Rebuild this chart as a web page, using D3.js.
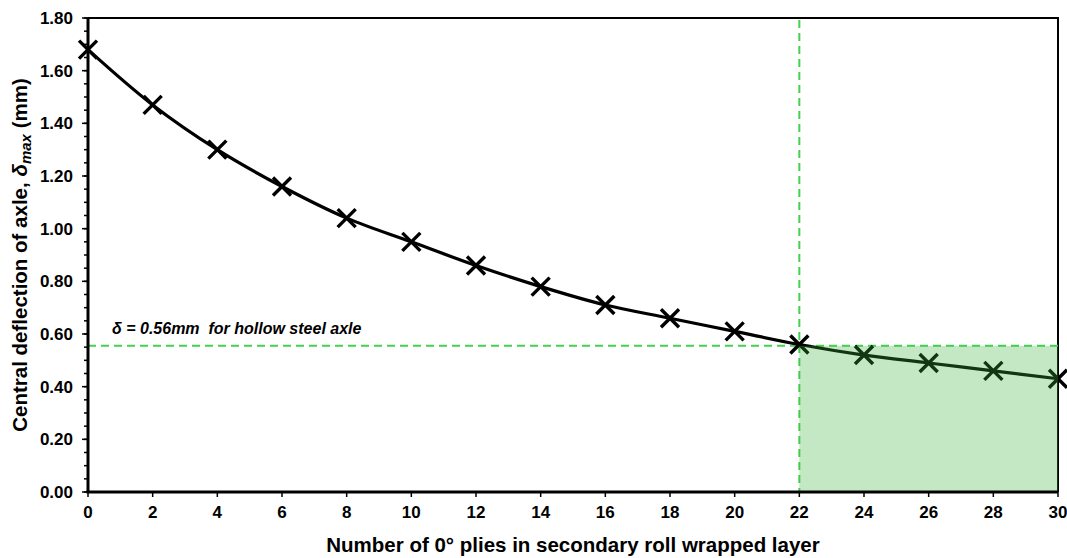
<!DOCTYPE html>
<html>
<head>
<meta charset="utf-8">
<script src="https://cdn.jsdelivr.net/npm/d3@7"></script>
<style>
  body { margin: 0; background: #fff; }
  text { font-family: "Liberation Sans", Arial, sans-serif; }
</style>
</head>
<body>
<svg id="chart" width="1067" height="558"></svg>
<script>
// data
var plies      = [0, 2, 4, 6, 8, 10, 12, 14, 16, 18, 20, 22, 24, 26, 28, 30];
var deflection = [1.68, 1.47, 1.30, 1.16, 1.04, 0.95, 0.86, 0.78, 0.71, 0.66, 0.61, 0.56, 0.52, 0.49, 0.46, 0.43];
var xTicks     = [0, 2, 4, 6, 8, 10, 12, 14, 16, 18, 20, 22, 24, 26, 28, 30];
var yTicks     = [0, 0.2, 0.4, 0.6, 0.8, 1.0, 1.2, 1.4, 1.6, 1.8];
var limitValue = 0.555;   // hollow steel axle
var limitPlies = 22;

var margin = {left: 88, top: 18, right: 9, bottom: 66};
var W = 1067, H = 558;
var svg = d3.select("#chart");
var innerW = W - margin.left - margin.right;
var innerH = H - margin.top - margin.bottom;

var x = d3.scaleLinear().domain([0, 30]).range([margin.left, margin.left + innerW]);
var y = d3.scaleLinear().domain([0, 1.8]).range([margin.top + innerH, margin.top]);

var green = "#45d052";

// top + right border
svg.append("path")
    .attr("d", "M" + x(0) + "," + y(1.8) + "H" + x(30) + "V" + y(0))
    .attr("fill", "none").attr("stroke", "#000").attr("stroke-width", 2);

// dashed guide lines
svg.append("line")
    .attr("x1", x(0)).attr("x2", x(30))
    .attr("y1", y(limitValue)).attr("y2", y(limitValue))
    .attr("stroke", green).attr("stroke-width", 2).attr("stroke-dasharray", "8,5");
svg.append("line")
    .attr("x1", x(limitPlies)).attr("x2", x(limitPlies))
    .attr("y1", y(1.8) + 2).attr("y2", y(0))
    .attr("stroke", green).attr("stroke-width", 2).attr("stroke-dasharray", "8,5");

// curve
var pts = plies.map(function(p, i){ return [p, deflection[i]]; });
var line = d3.line()
    .x(function(d){ return x(d[0]); })
    .y(function(d){ return y(d[1]); })
    .curve(d3.curveCatmullRom.alpha(0.5));
svg.append("path").datum(pts)
    .attr("d", line)
    .attr("fill", "none").attr("stroke", "#000").attr("stroke-width", 3.2);

// cross markers
var s = 9;
svg.selectAll("path.mark").data(pts).enter().append("path")
    .attr("class", "mark")
    .attr("d", function(d){
        var cx = x(d[0]), cy = y(d[1]);
        return "M" + (cx - s) + "," + (cy - s) + "L" + (cx + s) + "," + (cy + s) +
               "M" + (cx - s) + "," + (cy + s) + "L" + (cx + s) + "," + (cy - s);
    })
    .attr("stroke", "#000").attr("stroke-width", 3.4).attr("fill", "none");

// acceptable region, translucent over the curve
svg.append("rect")
    .attr("x", x(limitPlies)).attr("y", y(limitValue))
    .attr("width", x(30) - x(limitPlies)).attr("height", y(0) - y(limitValue))
    .attr("fill", "rgb(60,180,60)").attr("fill-opacity", 0.3);

// axes
var yAxis = svg.append("g").attr("transform", "translate(" + x(0) + ",0)");
yAxis.append("line").attr("x1", 0).attr("x2", 0).attr("y1", y(1.8)).attr("y2", y(0))
    .attr("stroke", "#000").attr("stroke-width", 3);
var yMinor = d3.range(0, 1.8001, 0.05);
yAxis.selectAll("line.minor").data(yMinor).enter().append("line")
    .attr("x1", -4).attr("x2", 0)
    .attr("y1", function(d){ return y(d); }).attr("y2", function(d){ return y(d); })
    .attr("stroke", "#000").attr("stroke-width", 1.5);
yAxis.selectAll("line.major").data(yTicks).enter().append("line")
    .attr("x1", -6).attr("x2", 0)
    .attr("y1", function(d){ return y(d); }).attr("y2", function(d){ return y(d); })
    .attr("stroke", "#000").attr("stroke-width", 1.5);
yAxis.selectAll("text").data(yTicks).enter().append("text")
    .attr("x", -15).attr("y", function(d){ return y(d); }).attr("dy", "0.36em")
    .attr("text-anchor", "end")
    .style("font-size", "17px").style("font-weight", "bold")
    .text(function(d){ return d3.format(".2f")(d); });

var xAxis = svg.append("g").attr("transform", "translate(0," + y(0) + ")");
xAxis.append("line").attr("x1", x(0) - 1.5).attr("x2", x(30)).attr("y1", 0).attr("y2", 0)
    .attr("stroke", "#000").attr("stroke-width", 3);
xAxis.selectAll("line.tick").data(xTicks).enter().append("line")
    .attr("x1", function(d){ return x(d); }).attr("x2", function(d){ return x(d); })
    .attr("y1", 0).attr("y2", 5)
    .attr("stroke", "#000").attr("stroke-width", 1.5);
xAxis.selectAll("text").data(xTicks).enter().append("text")
    .attr("x", function(d){ return x(d); }).attr("y", 26)
    .attr("text-anchor", "middle")
    .style("font-size", "17px").style("font-weight", "bold")
    .text(function(d){ return d; });

// axis titles
svg.append("text")
    .attr("x", (x(0) + x(30)) / 2).attr("y", 552)
    .attr("text-anchor", "middle")
    .style("font-size", "20.5px").style("font-weight", "bold")
    .text("Number of 0° plies in secondary roll wrapped layer");

var yt = svg.append("text")
    .attr("transform", "translate(27," + ((y(0) + y(1.8)) / 2) + ") rotate(-90)")
    .attr("text-anchor", "middle")
    .style("font-size", "20.5px").style("font-weight", "bold");
yt.append("tspan").text("Central deflection of axle, ");
yt.append("tspan").style("font-style", "italic").text("δ");
yt.append("tspan").style("font-style", "italic").style("font-size", "15px").attr("dy", 4).text("max");
yt.append("tspan").attr("dy", -4).text(" (mm)");

// annotation
svg.append("text")
    .attr("x", 112).attr("y", 334)
    .style("font-size", "16px").style("font-weight", "bold").style("font-style", "italic")
    .attr("xml:space", "preserve")
    .text("δ = 0.56mm  for hollow steel axle");
</script>
</body>
</html>
